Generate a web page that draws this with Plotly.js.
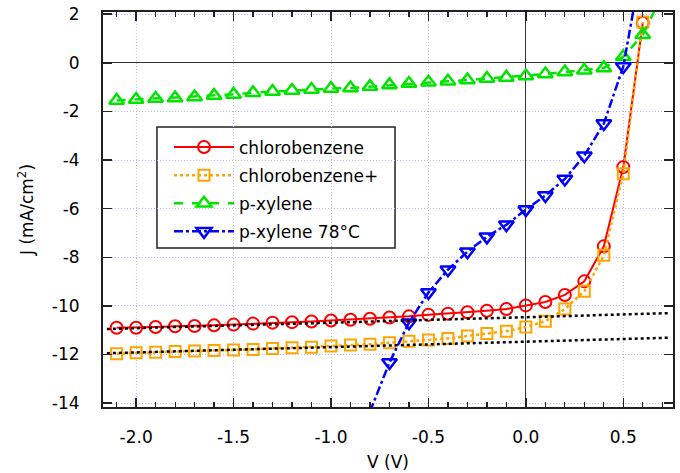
<!DOCTYPE html>
<html>
<head>
<meta charset="utf-8">
<script src="https://cdn.plot.ly/plotly-3.0.1.min.js"></script>
<style>
  html, body { margin: 0; padding: 0; background: #fff; }
  #chart { width: 680px; height: 473px; }
</style>
</head>
<body>
<div id="chart"></div>
<script>
// ---- data ----
const seriesNames = ["chlorobenzene", "chlorobenzene+", "p-xylene", "p-xylene 78\u00B0C"];

const vCB = [-2.1,-2.0,-1.9,-1.8,-1.7,-1.6,-1.5,-1.4,-1.3,-1.2,-1.1,-1.0,-0.9,-0.8,-0.7,-0.6,-0.5,-0.4,-0.3,-0.2,-0.1,0.0,0.1,0.2,0.3,0.4,0.5,0.6];
const jCB = [-10.90,-10.90,-10.87,-10.84,-10.83,-10.80,-10.77,-10.73,-10.69,-10.67,-10.64,-10.60,-10.57,-10.53,-10.48,-10.43,-10.37,-10.32,-10.26,-10.20,-10.13,-9.98,-9.84,-9.55,-8.99,-7.55,-4.29,1.65];

const vCBp = [-2.1,-2.0,-1.9,-1.8,-1.7,-1.6,-1.5,-1.4,-1.3,-1.2,-1.1,-1.0,-0.9,-0.8,-0.7,-0.6,-0.5,-0.4,-0.3,-0.2,-0.1,0.0,0.1,0.2,0.3,0.4,0.5,0.6];
const jCBp = [-11.97,-11.93,-11.91,-11.88,-11.86,-11.84,-11.82,-11.79,-11.75,-11.72,-11.70,-11.65,-11.61,-11.58,-11.52,-11.46,-11.40,-11.34,-11.24,-11.14,-11.04,-10.87,-10.63,-10.13,-9.40,-7.92,-4.56,1.68];

const vPX = [-2.1,-2.0,-1.9,-1.8,-1.7,-1.6,-1.5,-1.4,-1.3,-1.2,-1.1,-1.0,-0.9,-0.8,-0.7,-0.6,-0.5,-0.4,-0.3,-0.2,-0.1,0.0,0.1,0.2,0.3,0.4,0.5,0.6,0.7];
const jPX = [-1.55,-1.51,-1.47,-1.45,-1.41,-1.35,-1.30,-1.23,-1.18,-1.14,-1.10,-1.06,-1.04,-0.98,-0.91,-0.85,-0.80,-0.76,-0.71,-0.65,-0.60,-0.54,-0.46,-0.38,-0.31,-0.21,0.25,1.15,2.8];

const vPX78 = [-0.8,-0.7,-0.6,-0.5,-0.4,-0.3,-0.2,-0.1,0.0,0.1,0.2,0.3,0.4,0.5,0.6];
const jPX78 = [-14.35,-12.33,-10.69,-9.45,-8.51,-7.77,-7.16,-6.66,-6.04,-5.46,-4.78,-3.82,-2.50,-0.15,4.3];

// linear fits (black dotted)
const vFit = [-2.15, 0.73];
const jFitCB = [-10.95, -10.30];
const jFitCBp = [-11.95, -11.31];

// axis ticks
const xTickVals = [-2.0,-1.5,-1.0,-0.5,0.0,0.5];
const xTickText = ["-2.0","-1.5","-1.0","-0.5","0.0","0.5"];
const yTickVals = [2,0,-2,-4,-6,-8,-10,-12,-14];
const yTickText = ["2","0","-2","-4","-6","-8","-10","-12","-14"];

// ---- traces ----
const FONT = "DejaVu Sans, Verdana, sans-serif";
const colors = ["#ff0000", "#ffa500", "#00e400", "#0000ff"];

const traces = [
  {x: vCB, y: jCB, name: seriesNames[0], legendgroup: "g1", mode: "lines+markers",
   line: {color: colors[0], width: 2, dash: "solid"},
   marker: {symbol: "circle-open", size: 12, color: colors[0], line: {width: 2, color: colors[0]}}},
  {x: vCBp, y: jCBp, name: seriesNames[1], legendgroup: "g2", mode: "lines+markers",
   line: {color: colors[1], width: 2.5, dash: "dot"},
   marker: {symbol: "square-open", size: 11, color: colors[1], line: {width: 2, color: colors[1]}}},
  {x: vPX, y: jPX, name: seriesNames[2], legendgroup: "g3", mode: "lines+markers",
   line: {color: colors[2], width: 2.5, dash: "dash"},
   marker: {symbol: "triangle-up-open", size: 13, color: colors[2], line: {width: 2.5, color: colors[2]}}},
  {x: vPX78, y: jPX78, name: seriesNames[3], legendgroup: "g4", mode: "lines+markers",
   line: {color: colors[3], width: 2.5, dash: "dashdot"},
   marker: {symbol: "triangle-down-open", size: 13, color: colors[3], line: {width: 2.5, color: colors[3]}}},
  {x: vFit, y: jFitCB, mode: "lines", showlegend: false, hoverinfo: "skip",
   line: {color: "#000", width: 2.5, dash: "dot"}},
  {x: vFit, y: jFitCBp, mode: "lines", showlegend: false, hoverinfo: "skip",
   line: {color: "#000", width: 2.5, dash: "dot"}}
];

const layout = {
  width: 680, height: 473,
  margin: {l: 103, r: 7, t: 12, b: 66},
  paper_bgcolor: "#fff", plot_bgcolor: "#fff",
  font: {family: FONT, size: 17, color: "#000"},
  showlegend: true,
  legend: {
    x: 0.1158, y: 0.7025, xanchor: "left", yanchor: "top",
    bgcolor: "rgba(0,0,0,0)", borderwidth: 0,
    font: {family: FONT, size: 17, color: "#000"},
    itemwidth: 60, tracegroupgap: 3, traceorder: "grouped"
  },
  shapes: [
    {type: "rect", xref: "paper", yref: "paper", x0: 0.0947, x1: 0.5123, y0: 0.4025, y1: 0.7089,
     line: {color: "#222", width: 1.5}, fillcolor: "#fff", layer: "between"}
  ],
  xaxis: {
    range: [-2.17, 0.755],
    tickmode: "array", tickvals: xTickVals, ticktext: xTickText,
    ticks: "inside", ticklen: 9, tickwidth: 1.5, tickcolor: "#222",
    minor: {tickmode: "linear", tick0: 0, dtick: 0.1, ticks: "inside", ticklen: 5, tickwidth: 1.2, tickcolor: "#222", showgrid: false},
    showline: true, linecolor: "#222", linewidth: 2, mirror: "ticks",
    showgrid: true, gridcolor: "#b8b8ff", gridwidth: 1, griddash: "1px,2px",
    zeroline: true, zerolinecolor: "#333", zerolinewidth: 1.2,
    ticklabelstandoff: 14,
    tickfont: {family: FONT, size: 17},
    title: {text: "V (V)", font: {family: FONT, size: 17}, standoff: 10},
    automargin: false
  },
  yaxis: {
    range: [-14.16, 2.09],
    tickmode: "array", tickvals: yTickVals, ticktext: yTickText,
    ticks: "inside", ticklen: 9, tickwidth: 1.5, tickcolor: "#222",
    showline: true, linecolor: "#222", linewidth: 2, mirror: "ticks",
    showgrid: true, gridcolor: "#b8b8ff", gridwidth: 1, griddash: "1px,2px",
    zeroline: true, zerolinecolor: "#333", zerolinewidth: 1.2,
    ticklabelstandoff: 18,
    tickfont: {family: FONT, size: 17},
    title: {text: "J (mA/cm<sup>2</sup>)", font: {family: FONT, size: 17}, standoff: 14},
    automargin: false
  }
};

Plotly.newPlot("chart", traces, layout, {staticPlot: true, displayModeBar: false});
</script>
</body>
</html>
